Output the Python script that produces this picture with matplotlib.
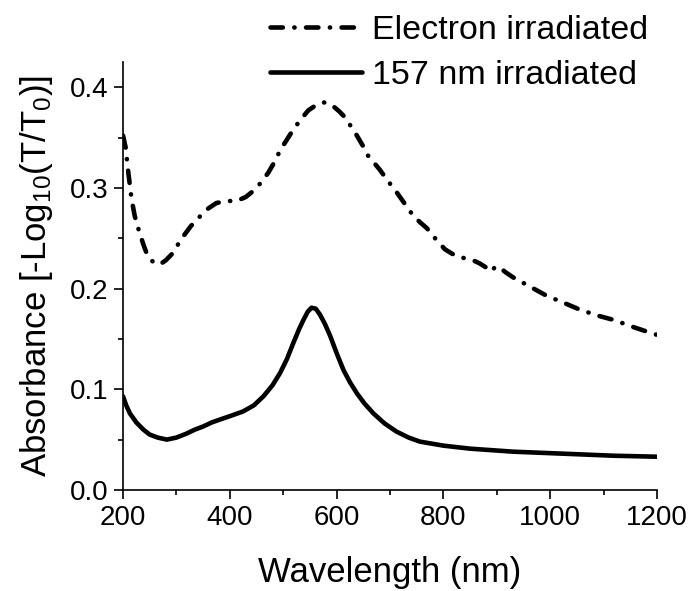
import numpy as np
import matplotlib
matplotlib.use("Agg")
import matplotlib.pyplot as plt
from matplotlib.ticker import MultipleLocator, FormatStrFormatter

plt.rcParams['font.family'] = ['Liberation Sans', 'DejaVu Sans']
plt.rcParams['mathtext.default'] = 'regular'

# electron irradiated (dash-dot)
wl_e = [200, 205, 210, 216, 222, 229, 238, 245, 251, 260, 269, 280, 291, 302, 313, 327,
        341, 358, 375, 395, 413, 430, 444, 458, 472, 484, 494, 507, 519, 533, 547, 561,
        575, 585, 594, 605, 616, 627, 638, 649, 659, 670, 681, 696, 712, 728, 744, 756,
        769, 786, 803, 815, 826, 841, 856, 868, 880, 890, 896, 903, 917, 931, 962, 993,
        1025, 1056, 1090, 1118, 1160, 1200]
abs_e = [0.352, 0.340, 0.315, 0.289, 0.272, 0.259, 0.244, 0.234, 0.229, 0.225, 0.224, 0.228,
         0.234, 0.243, 0.252, 0.262, 0.270, 0.279, 0.285, 0.287, 0.287, 0.291, 0.297, 0.305,
         0.315, 0.326, 0.337, 0.348, 0.358, 0.368, 0.377, 0.382, 0.385, 0.384, 0.381, 0.376,
         0.370, 0.361, 0.352, 0.342, 0.332, 0.325, 0.318, 0.307, 0.296, 0.284, 0.272, 0.266,
         0.260, 0.249, 0.239, 0.235, 0.232, 0.230, 0.228, 0.225, 0.221, 0.217, 0.221, 0.222,
         0.216, 0.211, 0.202, 0.193, 0.186, 0.179, 0.173, 0.169, 0.161, 0.154]

# 157 nm irradiated (solid)
wl_s = [200, 206, 213, 225, 238, 250, 265, 282, 300, 319, 335, 350, 366, 382, 404, 425,
        445, 463, 480, 494, 507, 519, 530, 538, 546, 553, 561, 569, 578, 588, 600, 613,
        625, 638, 652, 669, 690, 712, 735, 756, 800, 850, 931, 1025, 1118, 1200]
abs_s = [0.093, 0.084, 0.076, 0.067, 0.060, 0.055, 0.052, 0.050, 0.052, 0.056, 0.060, 0.063,
         0.067, 0.070, 0.074, 0.078, 0.084, 0.093, 0.104, 0.116, 0.130, 0.146, 0.160, 0.169,
         0.177, 0.181, 0.180, 0.174, 0.165, 0.153, 0.136, 0.119, 0.107, 0.096, 0.086, 0.076,
         0.066, 0.058, 0.052, 0.048, 0.044, 0.041, 0.038, 0.036, 0.034, 0.033]

fig = plt.figure(figsize=(6.93, 5.91), dpi=100)
ax = fig.add_axes([0.1775, 0.171, 0.7705, 0.724])

l1, = ax.plot(wl_e, abs_e, color='black', lw=3.3, dashes=(2.7, 2.5, 0.05, 2.5),
              dash_capstyle='round', label='Electron irradiated')
l2, = ax.plot(wl_s, abs_s, color='black', lw=3.3, solid_capstyle='round',
              solid_joinstyle='round', label='157 nm irradiated')

ax.set_xlim(200, 1200)
ax.set_ylim(0, 0.425)
ax.xaxis.set_major_locator(MultipleLocator(200))
ax.xaxis.set_minor_locator(MultipleLocator(100))
ax.yaxis.set_major_locator(MultipleLocator(0.1))
ax.yaxis.set_minor_locator(MultipleLocator(0.05))
ax.yaxis.set_major_formatter(FormatStrFormatter('%.1f'))

for s in ['top', 'right']:
    ax.spines[s].set_visible(False)
for s in ['left', 'bottom']:
    ax.spines[s].set_linewidth(1.2)

ax.tick_params(which='major', direction='out', length=6.5, width=1.2, labelsize=20, pad=4)
ax.tick_params(which='minor', direction='out', length=3.5, width=1.2)

ax.set_xlabel('Wavelength (nm)', fontsize=25, labelpad=18)
ax.set_ylabel('Absorbance [-Log$_{10}$(T/T$_0$)]', fontsize=25, labelpad=11)

fig.legend(handles=[l1, l2], loc='upper left', bbox_to_anchor=(0.385, 0.98),
           frameon=False, fontsize=24.5, handlelength=2.7, handletextpad=0.3,
           labelspacing=0.4, borderaxespad=0, borderpad=0.1)

fig.savefig('out.png', dpi=100)
